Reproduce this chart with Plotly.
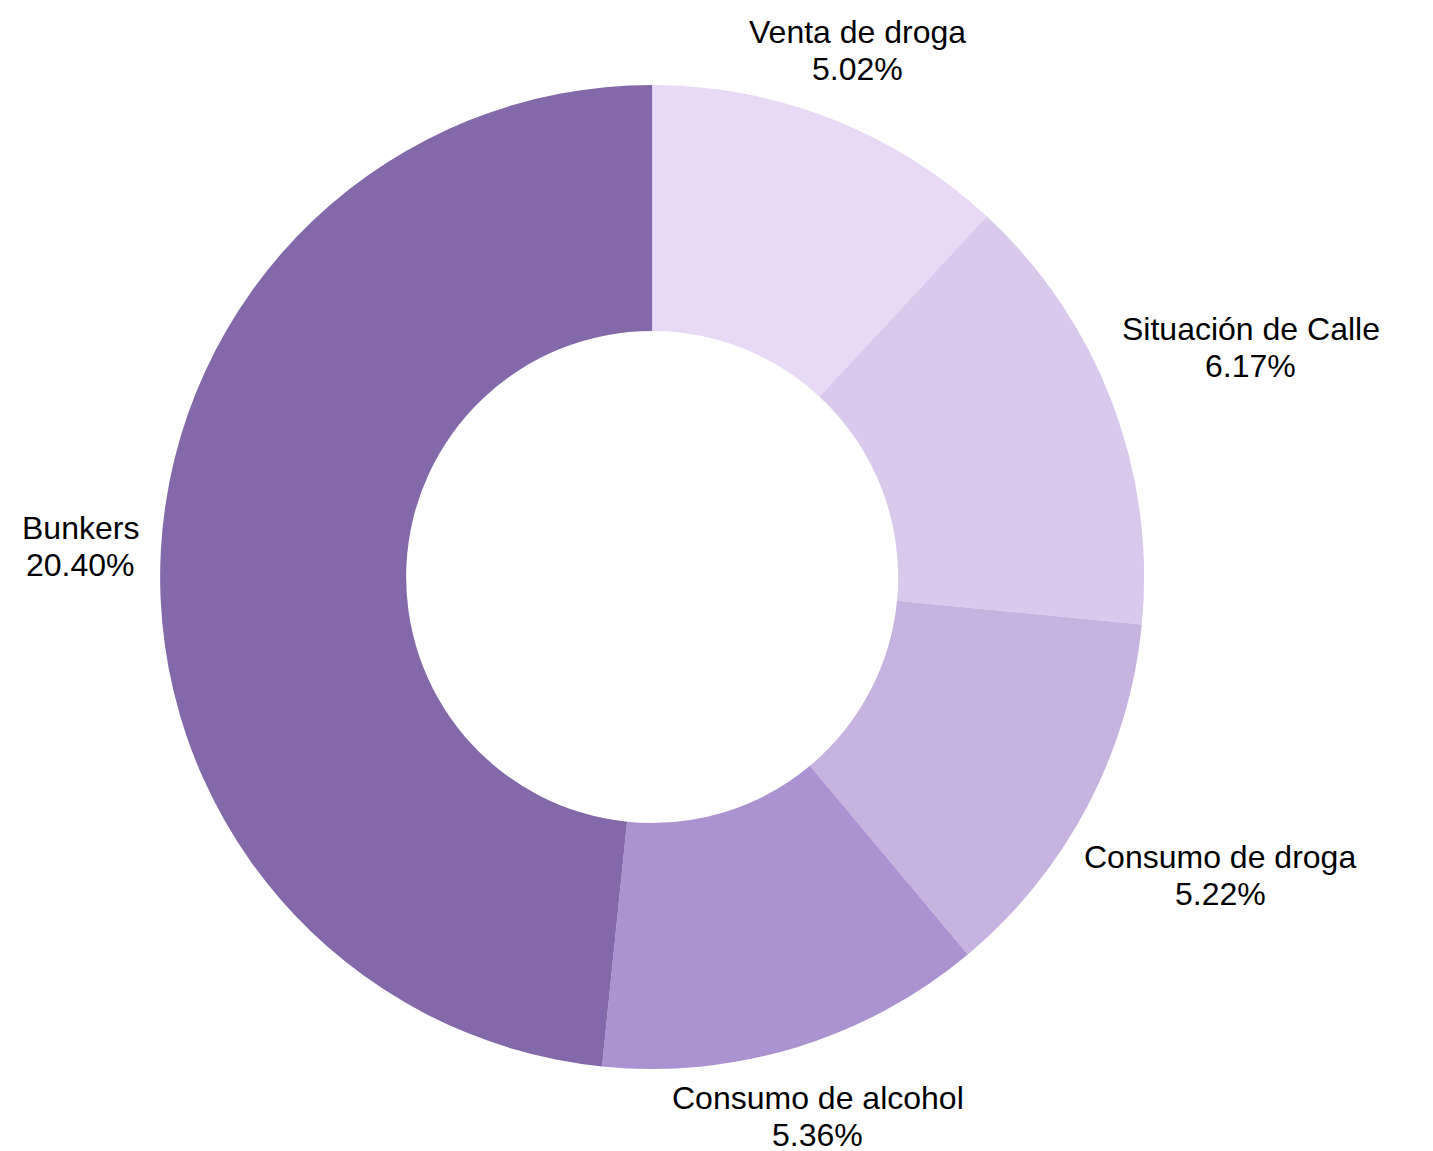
import math
import plotly.graph_objects as go

labels = ["Venta de droga", "Situación de Calle", "Consumo de droga", "Consumo de alcohol", "Bunkers"]
values = [5.02, 6.17, 5.22, 5.36, 20.40]
value_text = ["5.02%", "6.17%", "5.22%", "5.36%", "20.40%"]
colors = ["#E8DAF6", "#D9CAED", "#C6B3E0", "#AB93D1", "#8369A9"]

FONT = "Arial, Liberation Sans, sans-serif"
FONT_SIZE = 32
W, H = 1433, 1151
MARGIN = dict(l=0, r=0, t=77, b=90)
DOMAIN_X = [0.0, 0.899]

# approximate Arial advance widths (per 1000 em) for text-box sizing
ARIAL = {
    "a": 556, "b": 556, "c": 500, "d": 556, "e": 556, "g": 556, "h": 556, "i": 222,
    "k": 500, "l": 222, "m": 833, "n": 556, "o": 556, "r": 333, "s": 500, "t": 278,
    "u": 556, "v": 500, " ": 278, "B": 667, "C": 722, "S": 667, "V": 667, "ó": 556,
    ".": 278, "%": 889,
}


def text_width(s):
    return sum(ARIAL.get(ch, 556) for ch in s) / 1000.0 * FONT_SIZE


fig = go.Figure(go.Pie(
    labels=labels,
    values=values,
    textinfo="none",
    marker=dict(colors=colors, line=dict(width=0)),
    hole=0.5,
    sort=False,
    direction="clockwise",
    rotation=0,
    showlegend=False,
    domain=dict(x=DOMAIN_X, y=[0.0, 1.0]),
))

# label placement: block centred on the mid-angle ray of each slice, just outside the ring
paper_w = W - MARGIN["l"] - MARGIN["r"]
paper_h = H - MARGIN["t"] - MARGIN["b"]
radius = min((DOMAIN_X[1] - DOMAIN_X[0]) * paper_w, paper_h) / 2.0
cx = (DOMAIN_X[0] + DOMAIN_X[1]) / 2.0
cy = 0.5
total = sum(values)
gap_x, gap_y = 20, -4
half_h = 30          # visual half-height of a two-line label block
line_gap = 37        # baseline-to-baseline distance
first_base = 9       # first baseline sits this far above the block centre
base_off = 11        # baseline sits this far below a single-line annotation's middle


def add_line(x_px, base_down_px, txt):
    fig.add_annotation(
        x=cx + x_px / paper_w,
        y=cy - (base_down_px - base_off) / paper_h,
        xref="paper", yref="paper",
        text=txt,
        showarrow=False,
        xanchor="center", yanchor="middle", align="center",
        font=dict(family=FONT, size=FONT_SIZE, color="black"),
    )


cum = 0.0
for lab, val, vt in zip(labels, values, value_text):
    mid = (cum + val / 2.0) / total * 2 * math.pi
    cum += val
    s, c = math.sin(mid), math.cos(mid)
    half_w = max(text_width(lab), text_width(vt)) / 2.0
    r = radius + (gap_x + half_w) * abs(s) + (gap_y + half_h) * abs(c)
    px_x = r * s
    px_down = -r * c
    b1 = px_down - first_base
    add_line(px_x, b1, lab)
    add_line(px_x, b1 + line_gap, vt)

fig.update_layout(
    width=W, height=H,
    margin=MARGIN,
    paper_bgcolor="white",
    plot_bgcolor="white",
    showlegend=False,
)
fig.write_html("out.html")
